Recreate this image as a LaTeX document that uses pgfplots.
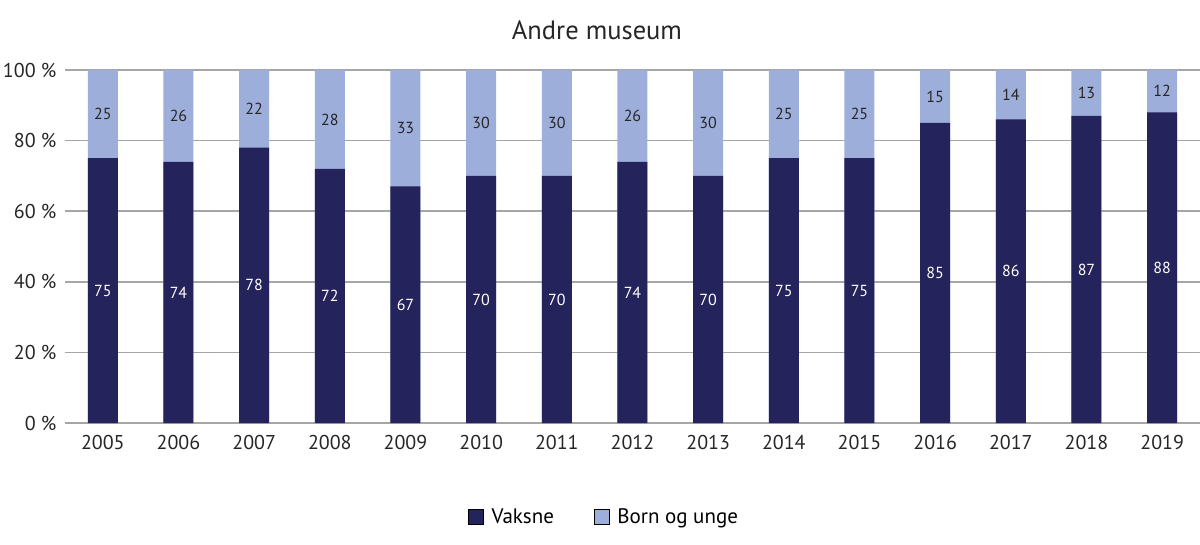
\documentclass[border=0pt]{standalone}
\usepackage{pgfplots}
\usepackage{pgfplotstable}
\pgfplotsset{compat=1.18}
\usepackage{fontspec}
\setmainfont{PT Sans}
\definecolor{dark}{HTML}{25235B}
\definecolor{light}{HTML}{9DAEDB}
\definecolor{gridc}{HTML}{A6A6A6}
\pgfplotstableread{
x year v b
0 2005 75 25
1 2006 74 26
2 2007 78 22
3 2008 72 28
4 2009 67 33
5 2010 70 30
6 2011 70 30
7 2012 74 26
8 2013 70 30
9 2014 75 25
10 2015 75 25
11 2016 85 15
12 2017 86 14
13 2018 87 13
14 2019 88 12
}\data
\begin{document}
\begin{tikzpicture}
\useasboundingbox (-65pt,-121pt) rectangle (1135pt,423pt);
\begin{axis}[
  at={(0pt,0pt)}, anchor=south west,
  scale only axis, width=1135pt, height=353pt,
  xmin=-0.5, xmax=14.5, ymin=0, ymax=100,
  xtick={0,...,14},
  xticklabels={2005,2006,2007,2008,2009,2010,2011,2012,2013,2014,2015,2016,2017,2018,2019},
  ytick={0,20,40,60,80,100},
  yticklabels={0 \%,20 \%,40 \%,60 \%,80 \%,100 \%},
  ticklabel style={font=\fontsize{20}{24}\selectfont, text=black!85},
  xticklabel style={yshift=-9pt},
  yticklabel style={xshift=-5pt},
  major tick length=0pt,
  axis x line*=bottom, axis y line*=left,
  y axis line style={draw=none},
  x axis line style={draw=gridc, line width=1.5pt},
  ymajorgrids, grid style={draw=gridc, line width=1.5pt},
  clip=false,
  legend style={at={(0.475,-0.266)}, anchor=center, draw=none, fill=none,
    legend columns=2, font=\fontsize{21}{24}\selectfont,
    /tikz/every odd column/.append style={column sep=6pt},
    /tikz/every even column/.append style={column sep=38pt}},
  legend image code/.code={\fill[#1] (0pt,-7.5pt) rectangle (15pt,7.5pt);},
]
\addplot[ybar, bar width=30pt, bar shift=0pt, fill=light, draw=none, forget plot]
  table[x=x, y expr=\thisrow{v}+\thisrow{b}] {\data};
\addplot[ybar, bar width=30pt, bar shift=0pt, fill=dark, draw=none, forget plot]
  table[x=x, y=v] {\data};
\addplot[draw=none, no markers, forget plot, nodes near coords, point meta=explicit symbolic,
  every node near coord/.append style={anchor=center, text=white, font=\fontsize{16}{18}\selectfont}]
  table[x=x, y expr=\thisrow{v}/2, meta=v] {\data};
\addplot[draw=none, no markers, forget plot, nodes near coords, point meta=explicit symbolic,
  every node near coord/.append style={anchor=center, text=black!85, font=\fontsize{16}{18}\selectfont}]
  table[x=x, y expr=\thisrow{v}+\thisrow{b}/2, meta=b] {\data};
\addlegendimage{fill=dark}
\addlegendentry{Vaksne}
\addlegendimage{fill=light}
\addlegendentry{Born og unge}
\end{axis}
\node[font=\fontsize{26.5}{30}\selectfont, text=black!85] at (532pt,393pt) {Andre museum};
\end{tikzpicture}
\end{document}
